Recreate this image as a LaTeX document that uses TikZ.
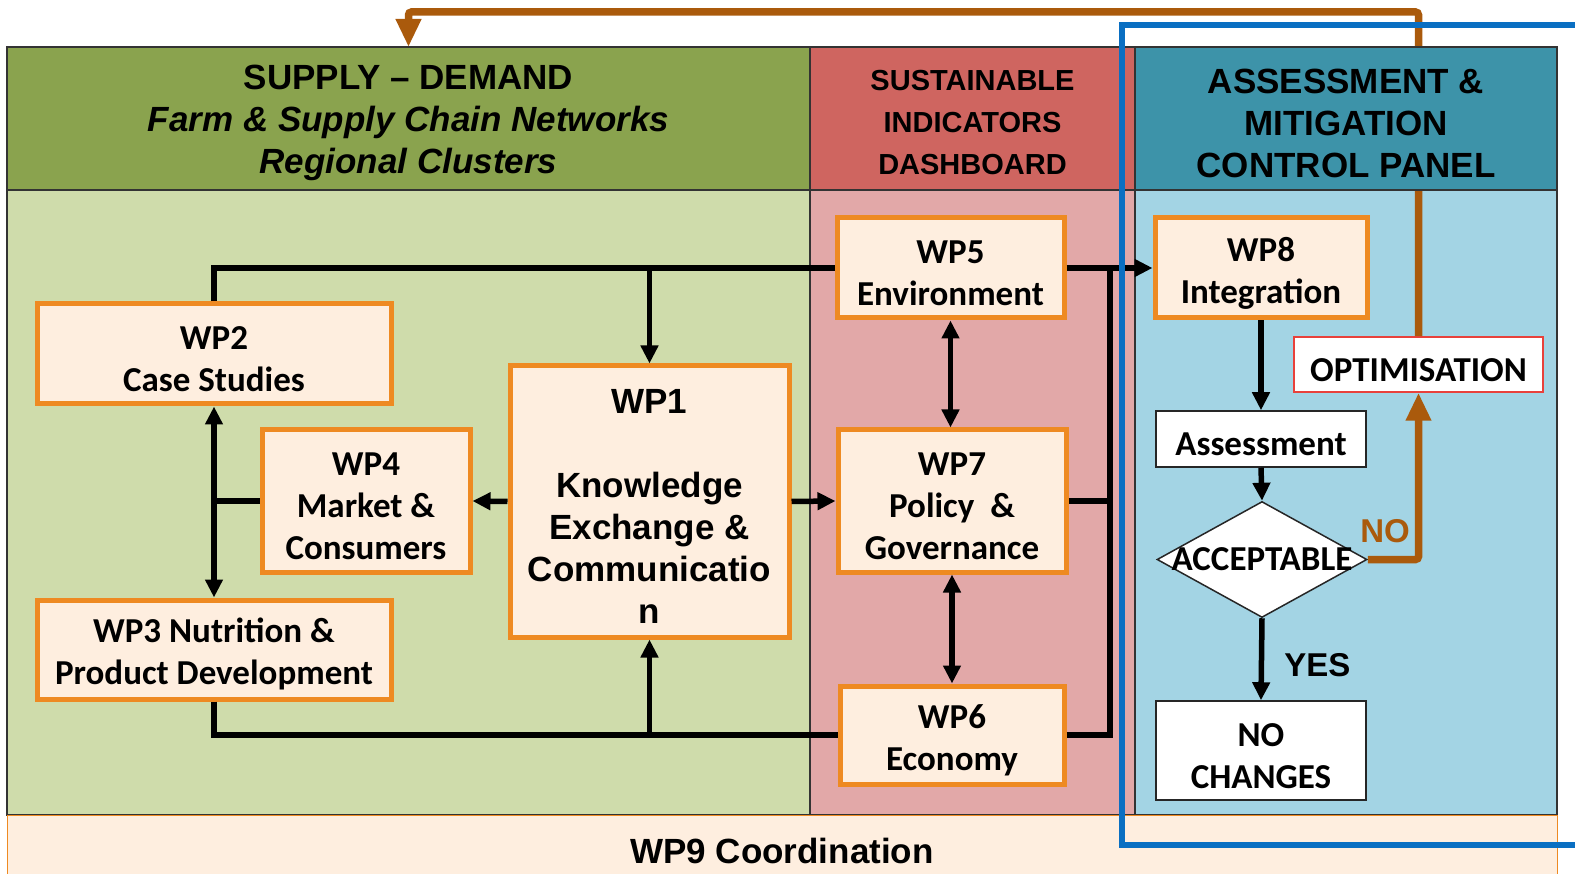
\documentclass[tikz,border=0pt]{standalone}
\usepackage{fontspec}
\setmainfont{Liberation Sans}
\newfontfamily\calibri{Carlito}
\usepackage{xcolor}
\usepackage{tikz}
\usetikzlibrary{arrows.meta,calc,positioning,shapes.geometric}
\newcommand{\wpstrut}{\rule{0pt}{34pt}}
\definecolor{supplydark}{HTML}{8AA34E}
\definecolor{supplylight}{HTML}{CFDCAB}
\definecolor{indicdark}{HTML}{CF6560}
\definecolor{indiclight}{HTML}{E2A8A8}
\definecolor{assessdark}{HTML}{3D93A9}
\definecolor{assesslight}{HTML}{A3D4E4}
\definecolor{wporange}{HTML}{EE8A22}
\definecolor{wpfill}{HTML}{FEEEDF}
\definecolor{loopbrown}{HTML}{AA5A0C}
\definecolor{frameblue}{HTML}{0A6FC2}
\definecolor{optred}{HTML}{E8413B}
\tikzset{
  panel/.style={draw=black!80, line width=1.2pt, inner sep=0pt},
  header/.style={panel, align=center, font=\fontsize{35}{42}\selectfont\bfseries},
  wp/.style={draw=wporange, fill=wpfill, line width=5pt, align=center, inner sep=0pt,
    font=\calibri\fontsize{35}{42}\selectfont\bfseries},
  flowbox/.style={draw=black!85, fill=white, line width=1.5pt, align=center, inner sep=0pt,
    font=\calibri\fontsize{35}{42}\selectfont\bfseries},
  link/.style={line width=5.5pt, line join=miter},
  feedback/.style={loopbrown, line width=7.5pt, rounded corners=3pt, -{Triangle[length=28pt,width=24pt]}},
  flowlabel/.style={inner sep=0pt, font=\fontsize{33}{40}\selectfont\bfseries}
}

\begin{document}
\begin{tikzpicture}[x=1pt, y=-1pt, >={Triangle[length=18pt,width=17pt]}]
  \useasboundingbox (0,0) rectangle (1575,874);

  \node[panel, fill=supplylight, minimum width=803pt, minimum height=625pt] (SupplyBody) at (408.5,502.5) {};
  \node[panel, fill=indiclight, minimum width=325pt, minimum height=625pt] (IndicBody) at (972.5,502.5) {};
  \node[panel, fill=assesslight, minimum width=422pt, minimum height=625pt] (AssessBody) at (1346,502.5) {};
  \node[draw=wporange, fill=wpfill, line width=1pt, minimum width=1550pt, minimum height=63pt,
    font=\fontsize{35}{42}\selectfont\bfseries] (WP9) at (782,846.5) {\wpstrut WP9 Coordination};

  \node[flowbox, draw=optred, minimum width=249pt, minimum height=55pt] (Opt) at (1418.5,364.5) {\wpstrut OPTIMISATION};
  \coordinate (SupplyTop) at (408.5,47);
  \coordinate (LoopTop) at (1418.5,12);
  \draw[feedback] (Opt.north) -- (LoopTop) -| (SupplyTop);

  \node[header, fill=supplydark, minimum width=803pt, minimum height=143pt] (SupplyHead) at (408.5,118.5)
    {\wpstrut SUPPLY – DEMAND\\\textit{Farm \& Supply Chain Networks}\\\textit{Regional Clusters}};
  \node[header, fill=indicdark, minimum width=325pt, minimum height=143pt,
    font=\fontsize{29}{42}\selectfont\bfseries] (IndicHead) at (972.5,118.5) {\rule{0pt}{28pt}SUSTAINABLE\\INDICATORS\\DASHBOARD};
  \node[header, fill=assessdark, minimum width=422pt, minimum height=143pt] (AssessHead) at (1346,118.5)
    {\wpstrut ASSESSMENT \&\\MITIGATION\\CONTROL PANEL};

  \node[wp, minimum width=354pt, minimum height=100pt] (WP2) at (214,354) {\wpstrut WP2\\Case Studies};
  \node[wp, minimum width=208pt, minimum height=142pt] (WP4) at (366,501) {\wpstrut WP4\\Market \&\\Consumers};
  \node[wp, minimum width=354pt, minimum height=99pt] (WP3) at (214,649.5) {\wpstrut WP3 Nutrition \&\\Product Development};
  \node[wp, minimum width=279pt, minimum height=271pt, font=\fontsize{35}{42}\selectfont\bfseries] (WP1) at (649.5,501.5)
    {\wpstrut WP1\\[42pt]Knowledge\\Exchange \&\\Communicatio\\n};
  \node[wp, minimum width=227pt, minimum height=100pt] (WP5) at (950.5,268) {\wpstrut WP5\\Environment};
  \node[wp, minimum width=228pt, minimum height=142pt] (WP7) at (952,501) {\wpstrut WP7\\Policy~~\&\\Governance};
  \node[wp, minimum width=224pt, minimum height=98pt] (WP6) at (952,735) {\wpstrut WP6\\Economy};
  \node[wp, minimum width=212pt, minimum height=100pt] (WP8) at (1261,268) {\wpstrut WP8\\Integration};
  \node[flowbox, minimum width=210pt, minimum height=56pt] (Assess) at (1261,439) {\wpstrut Assessment};
  \node[diamond, draw=black!85, fill=white, line width=1.5pt, inner sep=0pt,
    minimum width=210pt, minimum height=116pt] (Acc) at (1262,559.5) {};
  \node[font=\calibri\fontsize{35}{42}\selectfont\bfseries, inner sep=0pt] (AccText) at (Acc) {ACCEPTABLE};
  \node[flowbox, minimum width=210pt, minimum height=99pt] (NoCh) at (1261,750.5) {\wpstrut NO\\CHANGES};

  \coordinate (RBus) at (1110,268);
  \draw[link] (WP2.north) |- (WP5.west);
  \draw[link,->] (WP1.north |- WP5.west) -- (WP1.north);
  \draw[link,->] (WP5.east) -- (WP8.west);
  \draw[link] (WP6.east) -| (RBus);
  \draw[link] (WP7.east) -- (WP7.east -| RBus);
  \draw[link,<->] (WP5.south) -- (WP5.south |- WP7.north);
  \draw[link,<->] (WP7.south) -- (WP7.south |- WP6.north);
  \draw[link,->] (WP1.west) -- (WP4.east);
  \draw[link,->] (WP1.east) -- (WP7.west);
  \draw[link] (WP4.west) -- (WP4.west -| WP2.south);
  \draw[link,<->] (WP2.south) -- (WP3.north);
  \draw[link] (WP3.south) |- (WP6.west);
  \draw[link,->] (WP1.south |- WP6.west) -- (WP1.south);
  \draw[link,->] (WP8.south) -- (Assess.north);
  \draw[link,->] (Assess.south) -- (Acc.north);
  \draw[link,->] (Acc.south) -- node[flowlabel, right=20pt] (Yes) {\wpstrut YES} (NoCh.north);
  \draw[feedback] (Acc.east) -| node[flowlabel, loopbrown, pos=0.17, above=13pt] (No) {NO} (Opt.south);

  \draw[frameblue, line width=6pt] (1122,25) rectangle (1610,845);
\end{tikzpicture}
\end{document}
